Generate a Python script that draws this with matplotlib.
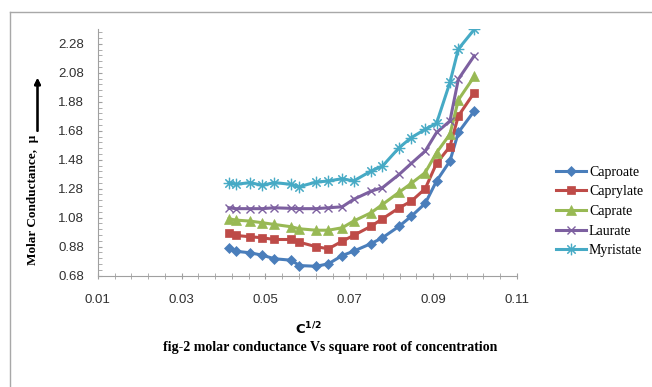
import matplotlib
matplotlib.use("Agg")
import matplotlib.pyplot as plt
from matplotlib.lines import Line2D
from matplotlib.ticker import MultipleLocator, FormatStrFormatter

# square root of concentration
sqrt_c = [0.0413, 0.0429, 0.0463, 0.0492, 0.0521, 0.0561, 0.0581, 0.0621, 0.0650, 0.0683,
          0.0710, 0.0752, 0.0779, 0.0819, 0.0848, 0.0881, 0.0908, 0.0940, 0.0960, 0.0998]

caproate = [0.872, 0.848, 0.837, 0.821, 0.796, 0.786, 0.749, 0.744, 0.761, 0.818,
            0.848, 0.901, 0.941, 1.021, 1.090, 1.178, 1.333, 1.471, 1.668, 1.817]
caprylate = [0.975, 0.957, 0.948, 0.941, 0.929, 0.929, 0.910, 0.879, 0.865, 0.917,
             0.957, 1.021, 1.072, 1.148, 1.194, 1.280, 1.455, 1.571, 1.782, 1.944]
caprate = [1.072, 1.063, 1.056, 1.045, 1.033, 1.017, 1.003, 0.993, 0.993, 1.010,
           1.056, 1.114, 1.171, 1.256, 1.317, 1.391, 1.529, 1.656, 1.893, 2.055]
laurate = [1.148, 1.142, 1.142, 1.142, 1.148, 1.144, 1.142, 1.142, 1.148, 1.155,
           1.206, 1.263, 1.287, 1.379, 1.455, 1.540, 1.668, 1.748, 2.036, 2.198]
myristate = [1.322, 1.310, 1.322, 1.303, 1.322, 1.310, 1.294, 1.326, 1.333, 1.349,
             1.333, 1.402, 1.436, 1.564, 1.633, 1.690, 1.732, 2.014, 2.244, 2.380]

series = [
    ("Caproate", caproate, "#4A7EBB", "D", 5),
    ("Caprylate", caprylate, "#BE4B48", "s", 6),
    ("Caprate", caprate, "#98B954", "^", 6.5),
    ("Laurate", laurate, "#7D60A0", "x", 6),
    ("Myristate", myristate, "#46AAC5", "$\u2733$", 8),
]

fig = plt.figure(figsize=(6.52, 3.87), dpi=100)
ax = fig.add_axes([0.150, 0.288, 0.643, 0.636])

for name, vals, color, marker, ms in series:
    ax.plot(sqrt_c, vals, color=color, lw=2.2, marker=marker, markersize=ms,
            markeredgewidth=1.0 if marker == "x" else 0.5, markeredgecolor=color,
            markerfacecolor=color, label=name)

ax.set_xlim(0.01, 0.11)
ax.set_ylim(0.68, 2.38)
# Excel-style ticks: start at the axis minimum
ax.xaxis.set_major_locator(MultipleLocator(0.02, offset=0.01))
ax.xaxis.set_minor_locator(MultipleLocator(0.004, offset=0.002))
ax.yaxis.set_major_locator(MultipleLocator(0.2, offset=0.08))
ax.yaxis.set_minor_locator(MultipleLocator(0.04))
ax.xaxis.set_major_formatter(FormatStrFormatter("%.2f"))
ax.yaxis.set_major_formatter(FormatStrFormatter("%.2f"))

for side in ("top", "right"):
    ax.spines[side].set_visible(False)
for side in ("left", "bottom"):
    ax.spines[side].set_color("#a0a0a0")
    ax.spines[side].set_linewidth(0.8)

ax.tick_params(which="both", color="#a0a0a0", labelcolor="#303030", labelsize=9.5)
ax.tick_params(axis="x", which="both", direction="inout", length=4, pad=11)
ax.tick_params(axis="y", which="both", direction="in", length=3, pad=10)
for lab in ax.get_xticklabels() + ax.get_yticklabels():
    lab.set_family("Liberation Sans")

leg = ax.legend(loc="upper left", bbox_to_anchor=(550 / 652, 1 - 160 / 387),
                bbox_transform=fig.transFigure, frameon=False,
                prop={"family": "Liberation Serif", "size": 10},
                handlelength=2.2, handletextpad=0.2, labelspacing=0.48, borderaxespad=0)

fig.text(308 / 652, 1 - 329 / 387, r"$\mathbf{C^{1/2}}$", ha="center", va="center", fontsize=9.5)
fig.text(330 / 652, 1 - 348 / 387, "fig-2 molar conductance Vs square root of concentration",
         ha="center", va="center", family="Liberation Serif", weight="bold", fontsize=10)
fig.text(33 / 652, 1 - 200 / 387, "Molar Conductance,  \u03bc", rotation=90, ha="center",
         va="center", family="Liberation Serif", weight="bold", fontsize=9.5)
fig.add_artist(plt.annotate("", xy=(37.5 / 652, 1 - 78 / 387), xytext=(37.5 / 652, 1 - 131 / 387),
                            xycoords="figure fraction", textcoords="figure fraction",
                            arrowprops=dict(arrowstyle="-|>", color="black", lw=1.5,
                                            mutation_scale=9, shrinkA=0, shrinkB=0)))

# chart border
fig.add_artist(Line2D([10 / 652, 10 / 652], [0, 1 - 12 / 387], transform=fig.transFigure,
                      color="#a8a8a8", lw=1.0))
fig.add_artist(Line2D([10 / 652, 1], [1 - 12 / 387, 1 - 12 / 387], transform=fig.transFigure,
                      color="#a8a8a8", lw=1.0))

fig.savefig("out.png", dpi=100)
